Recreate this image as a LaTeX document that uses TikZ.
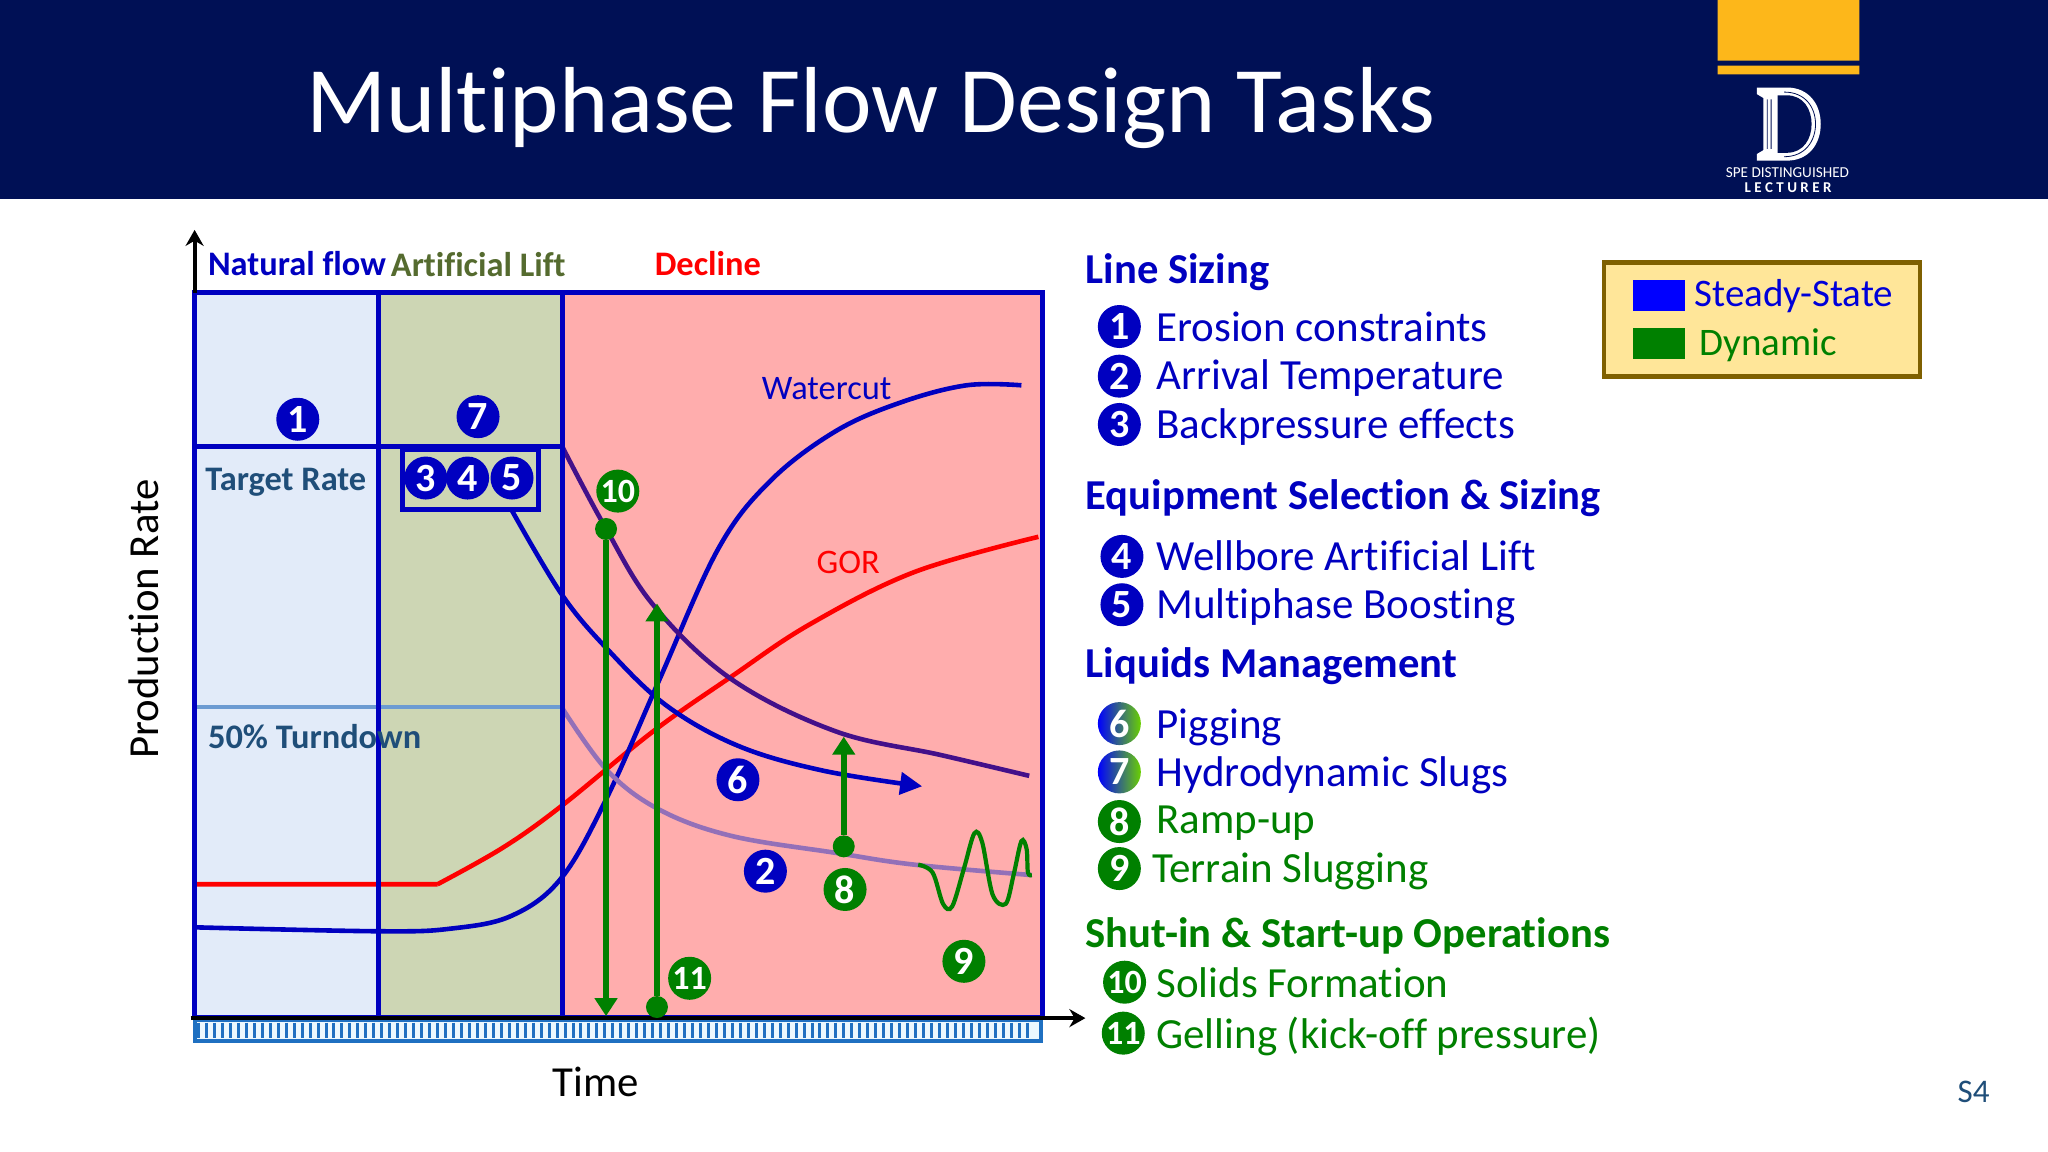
\documentclass[tikz,border=0pt]{standalone}
\usepackage{fontspec}
\setmainfont[Ligatures=NoCommon]{Carlito}
\usetikzlibrary{arrows.meta}
\definecolor{navy}{HTML}{001055}
\definecolor{gold}{HTML}{FDB71A}
\definecolor{fblue}{HTML}{0000C0}
\definecolor{fgreen}{HTML}{008000}
\definecolor{natbg}{HTML}{E2EBF9}
\definecolor{libg}{HTML}{CDD6B4}
\definecolor{pinkbg}{HTML}{FFADAD}
\definecolor{turncol}{HTML}{6C9BD2}
\definecolor{lift}{HTML}{556B2F}
\definecolor{labelc}{HTML}{1F4E79}
\definecolor{decl}{HTML}{43108A}
\definecolor{declb}{HTML}{9370B8}
\definecolor{stripc}{HTML}{1F70C1}
\definecolor{legbg}{HTML}{FFE699}
\definecolor{legline}{HTML}{7F6000}
\tikzset{
  badge/.style={circle, inner sep=0pt, minimum size=21.5pt, text=white,
    font=\fontsize{20}{20}\selectfont\bfseries},
  bblue/.style={badge, fill=fblue},
  bgreen/.style={badge, fill=fgreen},
  bmix/.style={badge, shade, shading angle=135, left color=blue, right color=black!30!yellow!60!green},
  item/.style={anchor=west, inner sep=0pt, text height=15pt, text depth=4pt, font=\fontsize{21.5}{24}\selectfont},
  head/.style={anchor=west, inner sep=0pt, text height=15pt, text depth=4pt, font=\fontsize{21.3}{24}\selectfont\bfseries},
  chartlabel/.style={anchor=west, inner sep=0pt, text height=12pt, text depth=3pt, font=\fontsize{17.2}{19}\selectfont\bfseries},
  frameline/.style={fblue, line width=2.5pt},
  dotg/.style={circle, fill=fgreen, inner sep=0pt, minimum size=11pt},
  greenarrow/.style={fgreen, line width=3pt, -{Triangle[length=9pt,width=11pt]}},
  axisarrow/.style={black, line width=2pt, -{Stealth[length=8pt,width=9pt]}}
}
\begin{document}
\begin{tikzpicture}[x=0.653pt, y=-0.653pt]
\useasboundingbox (0,0) rectangle (1568,882);
\fill[white] (0,0) rectangle (1568,882);
\fill[navy] (0,0) rectangle (1568,152.6);
\fill[gold] (1315,0) rectangle (1423.5,46.5)
            (1315,50.3) rectangle (1423.5,57);
\path (234,83) node[anchor=west, inner sep=0pt, text=white, font=\fontsize{46.9}{58}\selectfont] (title) {Multiphase Flow Design Tasks};
\fill[white] (1345,67) -- (1368,67) .. controls (1385,67) and (1394,80) .. (1394,95)
      .. controls (1394,110) and (1385,123) .. (1368,123) -- (1345,123) -- (1345,118) -- (1350,115) -- (1350,75) -- (1345,72) -- cycle;
\fill[navy] (1361,73) -- (1368,73) .. controls (1381,73) and (1387,84) .. (1387,95)
      .. controls (1387,106) and (1381,117) .. (1368,117) -- (1361,117) -- cycle;
\draw[navy, line width=0.4pt] (1353,76) -- (1353,114) (1356,76) -- (1356,114)
      (1366,70.5) .. controls (1382,70.5) and (1390,82) .. (1390,95) .. controls (1390,108) and (1382,120) .. (1366,120);
\path (1368.5,132) node[inner sep=0pt, text=white, font=\fontsize{7.6}{9}\selectfont] (spe) {SPE DISTINGUISHED}
      (1369,144) node[inner sep=0pt, text=white, font=\fontsize{7.5}{9}\selectfont\bfseries] (lect) {L\ E\ C\ T\ U\ R\ E\ R};

\fill[natbg] (149,224) rectangle (290,779);
\fill[libg] (290,224) rectangle (431,779);
\fill[pinkbg] (431,224) rectangle (798,779);

\draw[turncol, line width=2pt] (149,541) -- (431,541);
\draw[red, line width=2.3pt] (150,677) -- (335,677) plot[smooth, tension=0.6] coordinates {(335,677) (385,649) (430,617) (500,560) (560,518) (620,478) (700,438) (795,411)};
\draw[fblue, line width=2.3pt] plot[smooth, tension=0.6] coordinates {(150,710) (290,713) (345,711) (392,701) (430,672) (465,610) (505,520) (550,420) (590,368) (640,330) (690,308) (740,295) (782,295)};
\draw[decl, line width=2.3pt] plot[smooth, tension=0.6] coordinates {(431,343) (463,403) (500,463) (560,520) (640,560) (720,578) (788,594)};
\draw[declb, line width=2.3pt] plot[smooth, tension=0.6] coordinates {(431,543) (465,590) (505,620) (560,640) (640,653) (700,662) (790,670)};
\draw[fblue, line width=2.3pt, -{Triangle[length=11pt,width=11pt]}] plot[smooth, tension=0.6] coordinates {(392,391) (430,455) (465,497) (510,540) (565,571) (630,590) (706,602)};
\draw[fgreen, line width=2.1pt] plot[smooth, tension=0.55] coordinates {(703,662) (714,668) (722,692) (729,694) (738,665) (746,638) (752,645) (760,685) (770,692) (776,670) (782,644) (786,650) (787,668) (790,670)};

\draw[frameline] (149,224) rectangle (798,779);
\draw[frameline] (290,224) -- (290,779) (431,224) -- (431,779) (149,342) -- (431,342);

\draw[stripc, line width=2pt, fill=cyan!8] (149,781) rectangle (797,797);
\foreach \i in {0,...,104} {
  \draw[stripc, line width=1.5pt] ({152+\i*6.1},783) -- ({152+\i*6.1},795);
}

\coordinate (yfoot) at (149,224);
\coordinate (ytip) at (149,176);
\coordinate (xfoot) at (146,779.5);
\coordinate (xtip) at (831,779.5);
\draw[axisarrow] (yfoot) -- (ytip);
\draw[axisarrow] (xfoot) -- (xtip);

\path (159,204) node[chartlabel, text=fblue] (natural) {Natural flow}
      (299,205) node[chartlabel, text=lift] (artlift) {Artificial Lift}
      (501,204) node[chartlabel, text=red] (decline) {Decline}
      (157,369) node[chartlabel, text=labelc] (target) {Target Rate}
      (159,566) node[chartlabel, text=labelc] (turndown) {50\% Turndown}
      (583,299) node[chartlabel, text=fblue, font=\fontsize{17.2}{19}\selectfont] (watercut) {Watercut}
      (625,432) node[chartlabel, text=red, font=\fontsize{17.2}{19}\selectfont] (gor) {GOR};
\path (110,474) node[rotate=90, inner sep=0pt, font=\fontsize{21.4}{24}\selectfont] (prod) {Production Rate}
      (456,828) node[inner sep=0pt, font=\fontsize{21.4}{24}\selectfont] (time) {Time}
      (1511,836) node[inner sep=0pt, text=labelc, font=\fontsize{16.5}{19}\selectfont] (pagenum) {S4};

\node[draw=fblue, line width=2.5pt, inner sep=0pt, minimum width=68pt, minimum height=30pt] (box) at (360,367) {};
\path (228,321) node[bblue] (c1) {1}
      (366,319) node[bblue] (c7) {7}
      (326,366) node[bblue] (c3) {3}
      (358,366) node[bblue] (c4) {4}
      (392,366) node[bblue] (c5) {5}
      (565,597) node[bblue] (c6) {6}
      (586,667) node[bblue] (c2) {2}
      (647,681) node[bgreen] (c8) {8}
      (738,736) node[bgreen] (c9) {9}
      (473,376) node[bgreen, font=\fontsize{17}{17}\selectfont\bfseries] (c10) {10}
      (528,749) node[bgreen, font=\fontsize{17}{17}\selectfont\bfseries] (c11) {11};

\node[dotg] (d10) at (464,405) {};
\node[dotg] (d11) at (503,771) {};
\node[dotg] (d8) at (646,648) {};
\coordinate (e10) at (464,778);
\coordinate (e11) at (503,462);
\coordinate (e8) at (646,564);
\draw[greenarrow] (d10) -- (e10);
\draw[greenarrow] (d11) -- (e11);
\draw[greenarrow] (d8) -- (e8);

\path (831,209) node[head, text=fblue] (h1) {Line Sizing}
      (831,382) node[head, text=fblue] (h2) {Equipment Selection \& Sizing}
      (831,510) node[head, text=fblue] (h3) {Liquids Management}
      (831,717) node[head, text=fgreen] (h4) {Shut-in \& Start-up Operations};
\path (857,250) node[bblue] (l1) {1}
      (857,288) node[bblue] (l2) {2}
      (857,325) node[bblue] (l3) {3}
      (859,426) node[bblue] (l4) {4}
      (859,463) node[bblue] (l5) {5}
      (857,554) node[bmix] (l6) {6}
      (857,591) node[bmix] (l7) {7}
      (857,629) node[bgreen] (l8) {8}
      (857,665) node[bgreen] (l9) {9}
      (861,752) node[bgreen, font=\fontsize{17}{17}\selectfont\bfseries] (l10) {10}
      (860,791) node[bgreen, font=\fontsize{17}{17}\selectfont\bfseries] (l11) {11};
\path (885,253) node[item, text=fblue] (t1) {Erosion constraints}
      (885,290) node[item, text=fblue] (t2) {Arrival Temperature}
      (885,327) node[item, text=fblue] (t3) {Backpressure effects}
      (885,428) node[item, text=fblue] (t4) {Wellbore Artificial Lift}
      (885,465) node[item, text=fblue] (t5) {Multiphase Boosting}
      (885,557) node[item, text=fblue] (t6) {Pigging}
      (885,594) node[item, text=fblue] (t7) {Hydrodynamic Slugs}
      (885,630) node[item, text=fgreen] (t8) {Ramp-up}
      (882,667) node[item, text=fgreen] (t9) {Terrain Slugging}
      (885,755) node[item, text=fgreen] (t10) {Solids Formation}
      (885,794) node[item, text=fgreen] (t11) {Gelling (kick-off pressure)};

\draw[draw=legline, line width=2.4pt, fill=legbg] (1228,201) rectangle (1470,288);
\fill[blue] (1250,214) rectangle (1290,238);
\fill[fgreen] (1250,251) rectangle (1290,275);
\path (1297,226) node[item, text=blue!85!black, font=\fontsize{19.5}{24}\selectfont] (steady) {Steady-State}
      (1301,264) node[item, text=fgreen, font=\fontsize{19.5}{24}\selectfont] (dynamic) {Dynamic};
\end{tikzpicture}
\end{document}
